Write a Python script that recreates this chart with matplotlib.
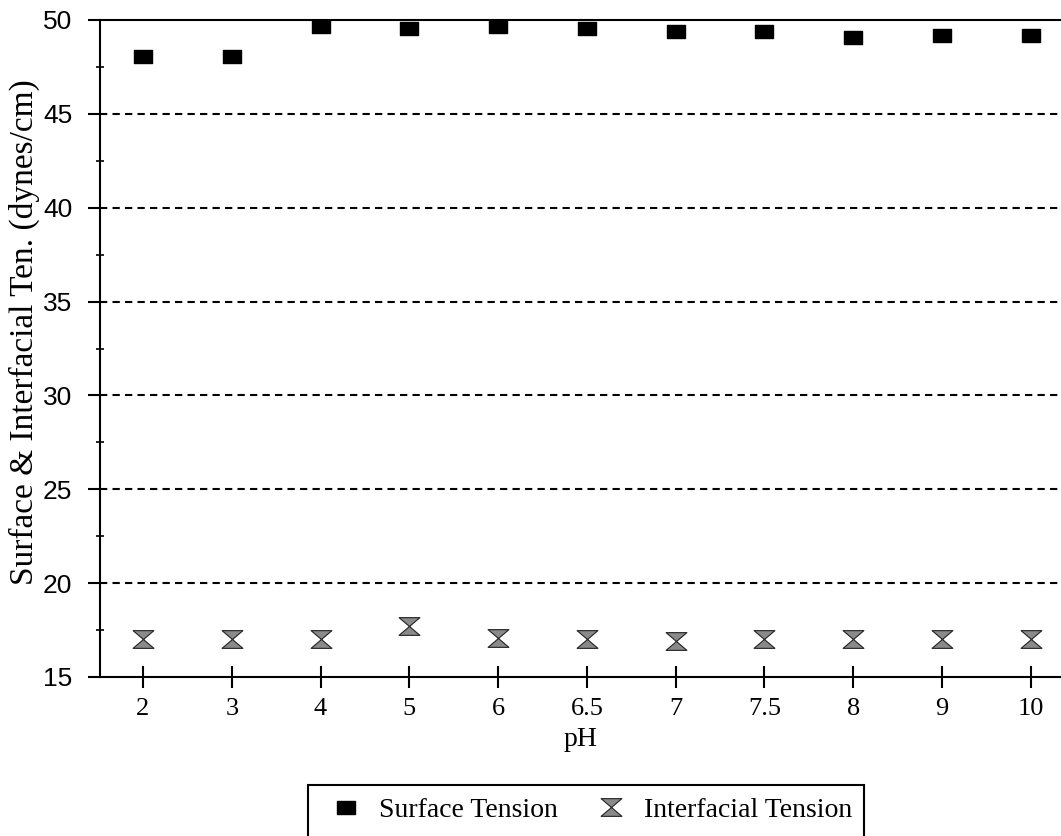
import numpy as np
import matplotlib.pyplot as plt
from matplotlib.path import Path
from matplotlib.lines import Line2D
from matplotlib.patches import Rectangle

# data
ph_labels = ['2', '3', '4', '5', '6', '6.5', '7', '7.5', '8', '9', '10']
surface_tension = [48.1, 48.1, 49.7, 49.6, 49.7, 49.6, 49.4, 49.4, 49.1, 49.2, 49.2]
interfacial_tension = [17.0, 17.0, 17.0, 17.7, 17.1, 17.0, 16.9, 17.0, 17.0, 17.0, 17.0]

# custom markers: flat rectangle and hourglass
rect_marker = Path([(-1, -0.72), (1, -0.72), (1, 0.72), (-1, 0.72), (-1, -0.72)],
                   [Path.MOVETO, Path.LINETO, Path.LINETO, Path.LINETO, Path.CLOSEPOLY])
hourglass = Path([(-1, 0.85), (1, 0.85), (0, 0), (-1, 0.85),
                  (0, 0), (1, -0.85), (-1, -0.85), (0, 0)],
                 [Path.MOVETO, Path.LINETO, Path.LINETO, Path.CLOSEPOLY,
                  Path.MOVETO, Path.LINETO, Path.LINETO, Path.CLOSEPOLY])

serif = 'Liberation Serif'
sans = 'Liberation Sans'

fig = plt.figure(figsize=(10.61, 8.36), dpi=100)
ax = fig.add_axes([100 / 1061, (836 - 677) / 836, 1 - 100 / 1061, 657 / 836])

x = np.arange(len(ph_labels))
ax.plot(x, surface_tension, linestyle='none', marker=rect_marker, markersize=13,
        color='black', label='Surface Tension')
ax.plot(x, interfacial_tension, linestyle='none', marker=hourglass, markersize=15,
        markerfacecolor='#8a8a8a', markeredgecolor='#222222', markeredgewidth=0.8,
        label='Interfacial Tension')

ax.set_xlim(-0.484, 10.34)
ax.set_ylim(15, 50)

# dashed gridlines
for yv in range(20, 50, 5):
    ax.axhline(yv, color='black', lw=1.5, linestyle=(0, (3.5, 2.5)), zorder=0)

ax.spines['right'].set_visible(False)
for s in ['left', 'bottom', 'top']:
    ax.spines[s].set_linewidth(1.5)

ax.set_xticks(x)
ax.set_xticklabels(ph_labels, fontfamily=serif, fontsize=19)
ax.set_yticks(np.arange(15, 51, 5))
ax.set_yticks(np.arange(17.5, 50, 5), minor=True)
ax.tick_params(axis='y', which='major', direction='out', length=9, width=1.5,
               labelsize=19, pad=11)
for lab in ax.get_yticklabels():
    lab.set_fontfamily(sans)
ax.tick_params(axis='y', which='minor', direction='inout', length=6, width=1.2)
ax.tick_params(axis='x', which='major', direction='inout', length=16, width=1.5, pad=7)

ax.set_xlabel('pH', fontfamily=serif, fontsize=20, labelpad=5)
fig.text(24 / 1061, 1 - 332 / 836, 'Surface & Interfacial Ten. (dynes/cm)',
         rotation=90, ha='center', va='center', fontfamily=serif, fontsize=24)

# legend with open-bottom box
handles = [
    Line2D([], [], linestyle='none', marker=rect_marker, markersize=13, color='black'),
    Line2D([], [], linestyle='none', marker=hourglass, markersize=15,
           markerfacecolor='#8a8a8a', markeredgecolor='#222222', markeredgewidth=0.8),
]
fig.legend(handles, ['Surface Tension', 'Interfacial Tension'], ncol=2, frameon=False,
           loc='center left', bbox_to_anchor=(318 / 1061, 1 - 810 / 836),
           prop={'family': serif, 'size': 20}, handlelength=1.0, handletextpad=0.7,
           columnspacing=1.4, borderpad=0)
fig.patches.append(Rectangle((308 / 1061, -0.1), (864 - 308) / 1061, 0.1 + (836 - 785) / 836,
                             transform=fig.transFigure, fill=False, edgecolor='black', lw=1.5))

fig.savefig('out.png', dpi=100)
